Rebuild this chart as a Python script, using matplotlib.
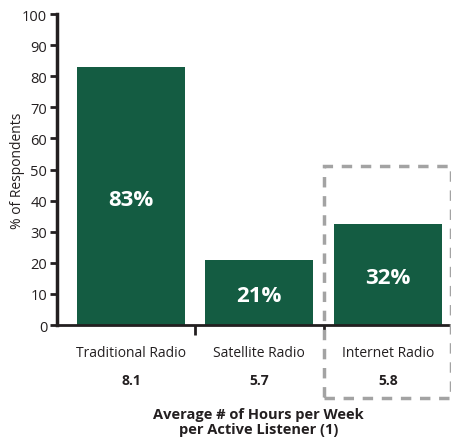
import matplotlib.pyplot as plt
from matplotlib.patches import Rectangle

categories = ['Traditional Radio', 'Satellite Radio', 'Internet Radio']
pct_respondents = [83, 21, 32.5]
bar_labels = ['83%', '21%', '32%']
avg_hours = ['8.1', '5.7', '5.8']

plt.rcParams['font.family'] = ['Open Sans', 'DejaVu Sans']
green = '#145C42'
dark = '#231F20'

fig = plt.figure(figsize=(4.52, 4.39), dpi=100)
ax = fig.add_axes([0.126, 0.2574, 0.874, 0.7084])

x = range(len(categories))
bars = ax.bar(x, pct_respondents, width=0.84, color=green, zorder=2)

# percentage labels inside bars
for b, lab in zip(bars, bar_labels):
    h = b.get_height()
    ax.text(b.get_x() + b.get_width() / 2, h / 2 - 1, lab, ha='center', va='center',
            color='white', fontsize=16, fontweight='bold')

ax.set_xlim(-0.576, 2.50)
ax.set_ylim(0, 100)
ax.set_yticks(range(0, 101, 10))
ax.tick_params(axis='y', labelsize=10.5, length=5, width=2, color=dark, labelcolor=dark, pad=2)

ax.set_xticks([0.5, 1.5])
ax.set_xticklabels([])
ax.tick_params(axis='x', length=7, width=2, color=dark, direction='out')

for s in ['top', 'right']:
    ax.spines[s].set_visible(False)
ax.spines['left'].set_linewidth(2.5)
ax.spines['bottom'].set_linewidth(2)
ax.spines['left'].set_color(dark)
ax.spines['bottom'].set_color(dark)

# category names and hours below axis
for i, (c, hval) in enumerate(zip(categories, avg_hours)):
    ax.text(i, -8.7, c, ha='center', va='center', fontsize=10, color=dark)
    ax.text(i, -17.7, hval, ha='center', va='center', fontsize=10,
            fontweight='bold', color=dark)

ax.set_ylabel('% of Respondents', fontsize=10, color=dark, va='center')
ax.yaxis.set_label_coords(-0.101, 0.5)
ax.text(0.51, -0.31, 'Average # of Hours per Week\nper Active Listener (1)', transform=ax.transAxes,
        ha='center', va='center', fontsize=10.5, fontweight='bold', color=dark, linespacing=1.1)

# dashed highlight box around Internet Radio
box = Rectangle((1.5, -23.5), 0.99, 74.5, fill=False, edgecolor='#A3A3A3',
                linewidth=2.5, linestyle=(0, (3, 2.5)), clip_on=False, zorder=3)
ax.add_patch(box)

fig.savefig('out.png', dpi=100)
